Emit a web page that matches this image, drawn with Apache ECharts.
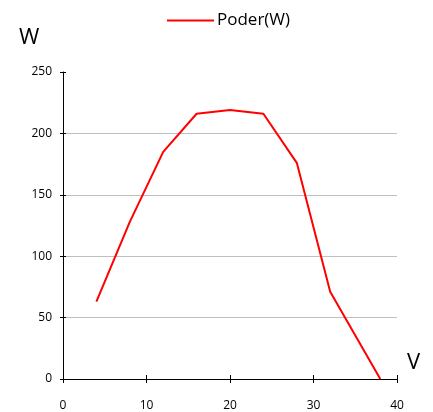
<!DOCTYPE html>
<html><head><meta charset="utf-8">
<script src="https://cdn.jsdelivr.net/npm/echarts@6/dist/echarts.min.js"></script>
<style>html,body{margin:0;padding:0;background:#fff}#c{width:433px;height:412px}</style>
</head><body><div id="c"></div>
<script>
const voltage = [4, 8, 12, 16, 20, 24, 28, 32, 38];
const power = [63, 128, 185, 216, 219, 216, 176, 71, 0];
const seriesName = 'Poder(W)';
const xName = 'V';
const yName = 'W';

const chart = echarts.init(document.getElementById('c'));
const font = 'Open Sans';
const tickStyle = {color: '#000', width: 1};
chart.setOption({
  animation: false,
  textStyle: {fontFamily: font},
  legend: {
    top: 7, left: 162,
    icon: 'rect', itemWidth: 47, itemHeight: 2, itemGap: 10,
    textStyle: {fontFamily: font, fontSize: 17, color: '#000', padding: [0,0,0,-2]},
    data: [seriesName]
  },
  grid: {left: 63, right: 36, top: 72, bottom: 33},
  graphic: [
    {type: 'text', left: 19, top: 27, style: {text: yName, fontSize: 22, fontFamily: font, fill: '#000'}},
    {type: 'text', left: 407, top: 352, style: {text: xName, fontSize: 22, fontFamily: font, fill: '#000'}}
  ],
  xAxis: [{
    type: 'value', min: 0, max: 40, interval: 10,
    axisLine: {onZero: false, lineStyle: {color: '#000', width: 1}},
    axisTick: {show: true, length: 4, lineStyle: tickStyle},
    axisLabel: {color: '#000', fontSize: 12, margin: 21, fontFamily: font},
    splitLine: {show: false}
  }, {
    type: 'value', min: 0, max: 40, interval: 10, position: 'bottom',
    axisLine: {show: false},
    axisTick: {show: true, inside: true, length: 4, lineStyle: tickStyle},
    axisLabel: {show: false}, splitLine: {show: false}
  }],
  yAxis: [{
    type: 'value', min: 0, max: 250, interval: 50,
    axisLine: {show: true, lineStyle: {color: '#000', width: 1}},
    axisTick: {show: true, length: 3, lineStyle: tickStyle},
    axisLabel: {color: '#000', fontSize: 12, margin: 11, fontFamily: font},
    splitLine: {show: true, showMinLine: false, showMaxLine: false,
      lineStyle: {color: '#c0c0c0', width: 1}}
  }, {
    type: 'value', min: 0, max: 250, interval: 50, position: 'left',
    axisLine: {show: false},
    axisTick: {show: true, inside: true, length: 3, lineStyle: tickStyle},
    axisLabel: {show: false}, splitLine: {show: false}
  }],
  series: [{
    name: seriesName, type: 'line',
    data: voltage.map((v, i) => [v, power[i]]),
    showSymbol: false, symbol: 'none',
    lineStyle: {color: '#ff0000', width: 2},
    itemStyle: {color: '#ff0000'}
  }]
});
</script></body></html>
